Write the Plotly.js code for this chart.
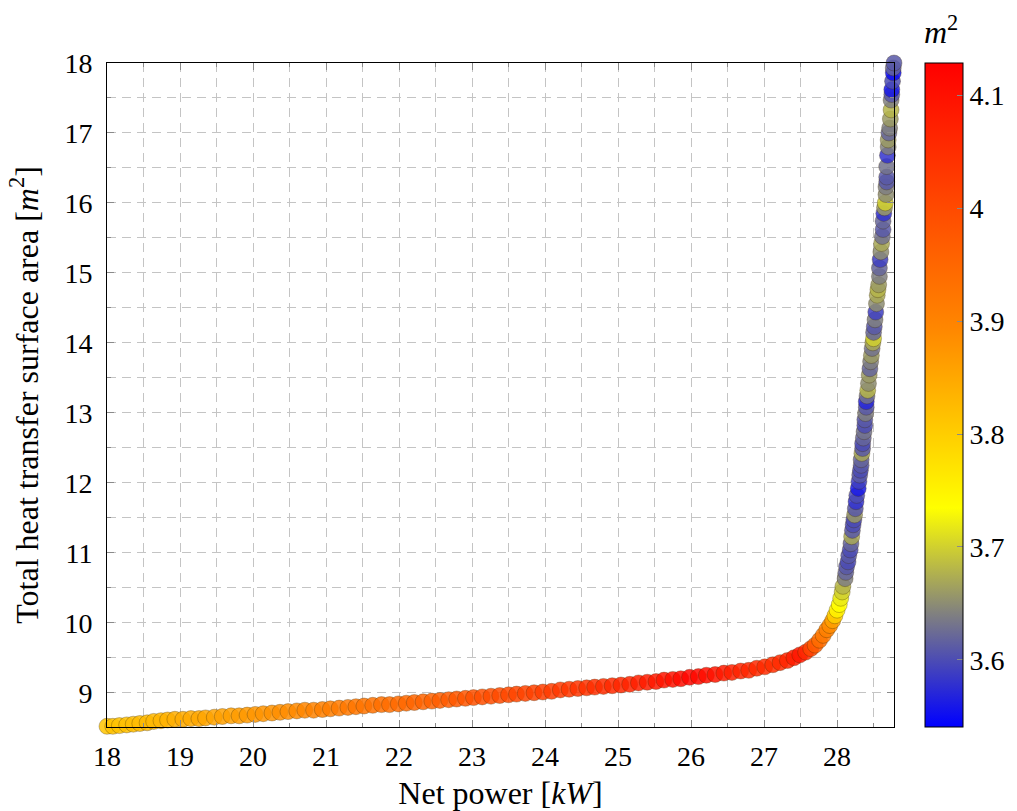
<!DOCTYPE html>
<html>
<head>
<meta charset="utf-8">
<script src="https://cdn.plot.ly/plotly-3.0.1.min.js"></script>
<style>html,body{margin:0;padding:0;background:#fff;}#chart{width:1017px;height:811px;}</style>
</head>
<body>
<div id="chart"></div>
<script>
// Net power [kW]
const netPower = [
 18.00,18.08,18.17,18.27,18.36,18.45,18.55,18.64,18.74,18.83,18.93,19.04,19.15,19.26,19.35,19.47,19.58,19.70,19.81,19.92,
 20.03,20.14,20.26,20.37,20.48,20.60,20.71,20.83,20.95,21.06,21.18,21.30,21.41,21.52,21.64,21.76,21.87,21.99,22.10,22.21,
 22.33,22.45,22.56,22.68,22.79,22.91,23.02,23.14,23.26,23.38,23.50,23.61,23.73,23.85,23.97,24.09,24.21,24.33,24.45,24.57,
 24.68,24.80,24.92,25.04,25.16,25.28,25.40,25.52,25.63,25.75,25.86,25.98,26.10,26.21,26.33,26.45,26.56,26.68,26.79,26.90,
 27.01,27.12,27.22,27.32,27.41,27.49,27.57,27.64,27.70,27.76,27.81,27.86,27.90,27.94,27.97,28.00,28.03,28.05,28.07,
 28.08,28.11,28.12,28.13,28.15,28.16,28.18,28.19,28.20,28.21,28.22,28.23,28.24,28.25,28.26,28.27,28.29,28.30,28.31,28.32,
 28.33,28.33,28.34,28.35,28.35,28.36,28.37,28.38,28.38,28.39,28.40,28.40,28.41,28.42,28.43,28.44,28.45,28.46,28.47,28.48,
 28.49,28.50,28.50,28.51,28.52,28.53,28.54,28.55,28.56,28.57,28.58,28.58,28.59,28.60,28.61,28.62,28.63,28.63,28.64,28.65,
 28.66,28.67,28.67,28.68,28.68,28.68,28.69,28.70,28.70,28.71,28.72,28.73,28.74,28.74,28.75,28.75,28.76,28.77,28.77,28.78
];
// Total heat transfer surface area [m^2]
const surfaceArea = [
 8.52,8.52,8.53,8.54,8.55,8.56,8.57,8.59,8.60,8.61,8.62,8.62,8.63,8.63,8.64,8.65,8.66,8.67,8.67,8.68,
 8.69,8.70,8.71,8.72,8.73,8.74,8.75,8.75,8.76,8.77,8.78,8.79,8.80,8.81,8.82,8.83,8.83,8.84,8.85,8.86,
 8.87,8.88,8.89,8.90,8.91,8.92,8.93,8.94,8.95,8.96,8.97,8.98,8.99,9.00,9.01,9.02,9.04,9.05,9.06,9.07,
 9.08,9.09,9.10,9.11,9.12,9.14,9.15,9.16,9.18,9.19,9.20,9.22,9.23,9.25,9.26,9.28,9.29,9.31,9.32,9.35,
 9.37,9.40,9.43,9.46,9.50,9.54,9.58,9.63,9.68,9.75,9.82,9.90,9.96,10.03,10.10,10.18,10.26,10.35,10.44,
 10.52,10.63,10.72,10.80,10.87,10.96,11.04,11.13,11.23,11.32,11.40,11.47,11.54,11.63,11.73,11.82,11.92,12.02,12.11,12.18,
 12.25,12.33,12.42,12.49,12.56,12.64,12.73,12.82,12.90,12.99,13.08,13.16,13.24,13.32,13.42,13.54,13.63,13.73,13.82,13.92,
 14.00,14.06,14.15,14.23,14.33,14.44,14.56,14.68,14.76,14.83,14.95,15.07,15.19,15.30,15.42,15.52,15.62,15.74,15.85,15.93,
 16.00,16.12,16.23,16.30,16.37,16.52,16.68,16.80,16.90,17.00,17.07,17.20,17.33,17.47,17.55,17.62,17.74,17.86,17.93,18.00
];
// Colour value [m^2]
const colorValue = [
 3.812,3.815,3.816,3.818,3.821,3.823,3.826,3.829,3.833,3.837,3.842,3.846,3.849,3.851,3.854,3.857,3.860,3.862,3.866,3.869,
 3.873,3.876,3.879,3.883,3.886,3.890,3.895,3.900,3.906,3.910,3.914,3.919,3.923,3.927,3.931,3.935,3.939,3.944,3.948,3.952,
 3.956,3.960,3.965,3.970,3.975,3.981,3.987,3.992,3.996,4.000,4.004,4.008,4.012,4.016,4.020,4.025,4.029,4.033,4.038,4.042,
 4.047,4.052,4.057,4.062,4.068,4.074,4.080,4.086,4.092,4.100,4.110,4.120,4.115,4.105,4.095,4.085,4.075,4.068,4.062,4.058,
 4.055,4.050,4.055,4.065,4.080,4.090,4.060,4.010,3.970,3.940,3.920,3.905,3.890,3.860,3.800,3.750,3.735,3.720,3.700,
 3.68,3.64,3.62,3.61,3.60,3.61,3.60,3.62,3.67,3.61,3.60,3.60,3.66,3.61,3.58,3.60,3.56,3.59,3.61,3.60,
 3.61,3.62,3.67,3.61,3.60,3.62,3.63,3.60,3.61,3.64,3.61,3.57,3.63,3.68,3.65,3.66,3.62,3.64,3.66,3.63,
 3.67,3.70,3.62,3.61,3.64,3.59,3.65,3.67,3.68,3.66,3.64,3.62,3.59,3.65,3.67,3.63,3.61,3.62,3.58,3.66,
 3.70,3.65,3.64,3.61,3.61,3.63,3.58,3.64,3.66,3.62,3.64,3.66,3.68,3.64,3.61,3.56,3.60,3.55,3.62,3.61
];
const xTicks = [18,19,20,21,22,23,24,25,26,27,28];
const yTicks = [9,10,11,12,13,14,15,16,17,18];
const cbTickVals = [3.6,3.7,3.8,3.9,4.0,4.1];
const cbTickText = ['3.6','3.7','3.8','3.9','4','4.1'];

const FONT = 'Liberation Serif, DejaVu Serif, serif';
const gridColor = '#c4c4c4';
const tickColor = '#8a8a8a';
const TICK_SIZE = 28;
const TITLE_SIZE = 32;

const colorscale = [
  [0, 'rgb(0,0,255)'],
  [0.17, 'rgb(128,128,128)'],
  [0.33, 'rgb(255,255,0)'],
  [0.6, 'rgb(255,135,0)'],
  [1, 'rgb(255,0,0)']
];

const trace = {
  type: 'scatter',
  mode: 'markers',
  x: netPower,
  y: surfaceArea,
  cliponaxis: false,
  hoverinfo: 'skip',
  marker: {
    size: 16,
    opacity: 0.85,
    color: colorValue,
    colorscale: colorscale,
    cmin: 3.5405,
    cmax: 4.1288,
    line: {width: 1, color: 'rgba(60,40,0,0.35)'},
    showscale: true,
    colorbar: {
      thickness: 38,
      thicknessmode: 'pixels',
      len: 1,
      lenmode: 'fraction',
      x: 1.0394,
      xanchor: 'left',
      y: 0.5,
      yanchor: 'middle',
      xpad: 0,
      ypad: 0,
      outlinewidth: 1,
      outlinecolor: '#000',
      ticks: 'inside',
      ticklen: 6,
      tickcolor: tickColor,
      tickvals: cbTickVals,
      ticktext: cbTickText,
      tickfont: {family: FONT, size: TICK_SIZE, color: '#000'}
    }
  }
};

const axisCommon = {
  showline: true,
  linecolor: '#000',
  linewidth: 1,
  mirror: 'allticks',
  ticks: 'inside',
  ticklen: 7,
  tickwidth: 1,
  tickcolor: tickColor,
  showgrid: true,
  gridcolor: gridColor,
  griddash: '9px,6px',
  gridwidth: 1,
  zeroline: false,
  tickfont: {family: FONT, size: TICK_SIZE, color: '#000'},
  minor: {
    dtick: 0.5,
    ticks: 'inside',
    ticklen: 4,
    tickcolor: tickColor,
    showgrid: true,
    gridcolor: gridColor,
    griddash: '9px,6px',
    gridwidth: 1
  }
};

const layout = {
  width: 1017,
  height: 811,
  margin: {l: 107, r: 123, t: 63, b: 84, autoexpand: false},
  paper_bgcolor: '#fff',
  plot_bgcolor: '#fff',
  showlegend: false,
  font: {family: FONT, color: '#000'},
  xaxis: Object.assign({}, axisCommon, {
    range: [18, 28.78],
    tickvals: xTicks,
    ticklabelstandoff: 4,
    title: {text: 'Net power [<i>kW</i>]', font: {family: FONT, size: TITLE_SIZE, color: '#000'}, standoff: 11}
  }),
  yaxis: Object.assign({}, axisCommon, {
    range: [8.51, 18],
    tickvals: yTicks,
    ticklabelstandoff: 8,
    title: {text: 'Total heat transfer surface area [<i>m</i><sup>2</sup>]', font: {family: FONT, size: TITLE_SIZE, color: '#000'}, standoff: 16}
  }),
  annotations: [{
    xref: 'paper', yref: 'paper',
    x: (941 - 107) / 787, y: 1 + (63 - 30) / 664,
    xanchor: 'center', yanchor: 'middle',
    showarrow: false,
    text: '<i>m</i><sup>2</sup>',
    font: {family: FONT, size: TITLE_SIZE, color: '#000'}
  }]
};

Plotly.newPlot('chart', [trace], layout, {displayModeBar: false, staticPlot: true});
</script>
</body>
</html>
